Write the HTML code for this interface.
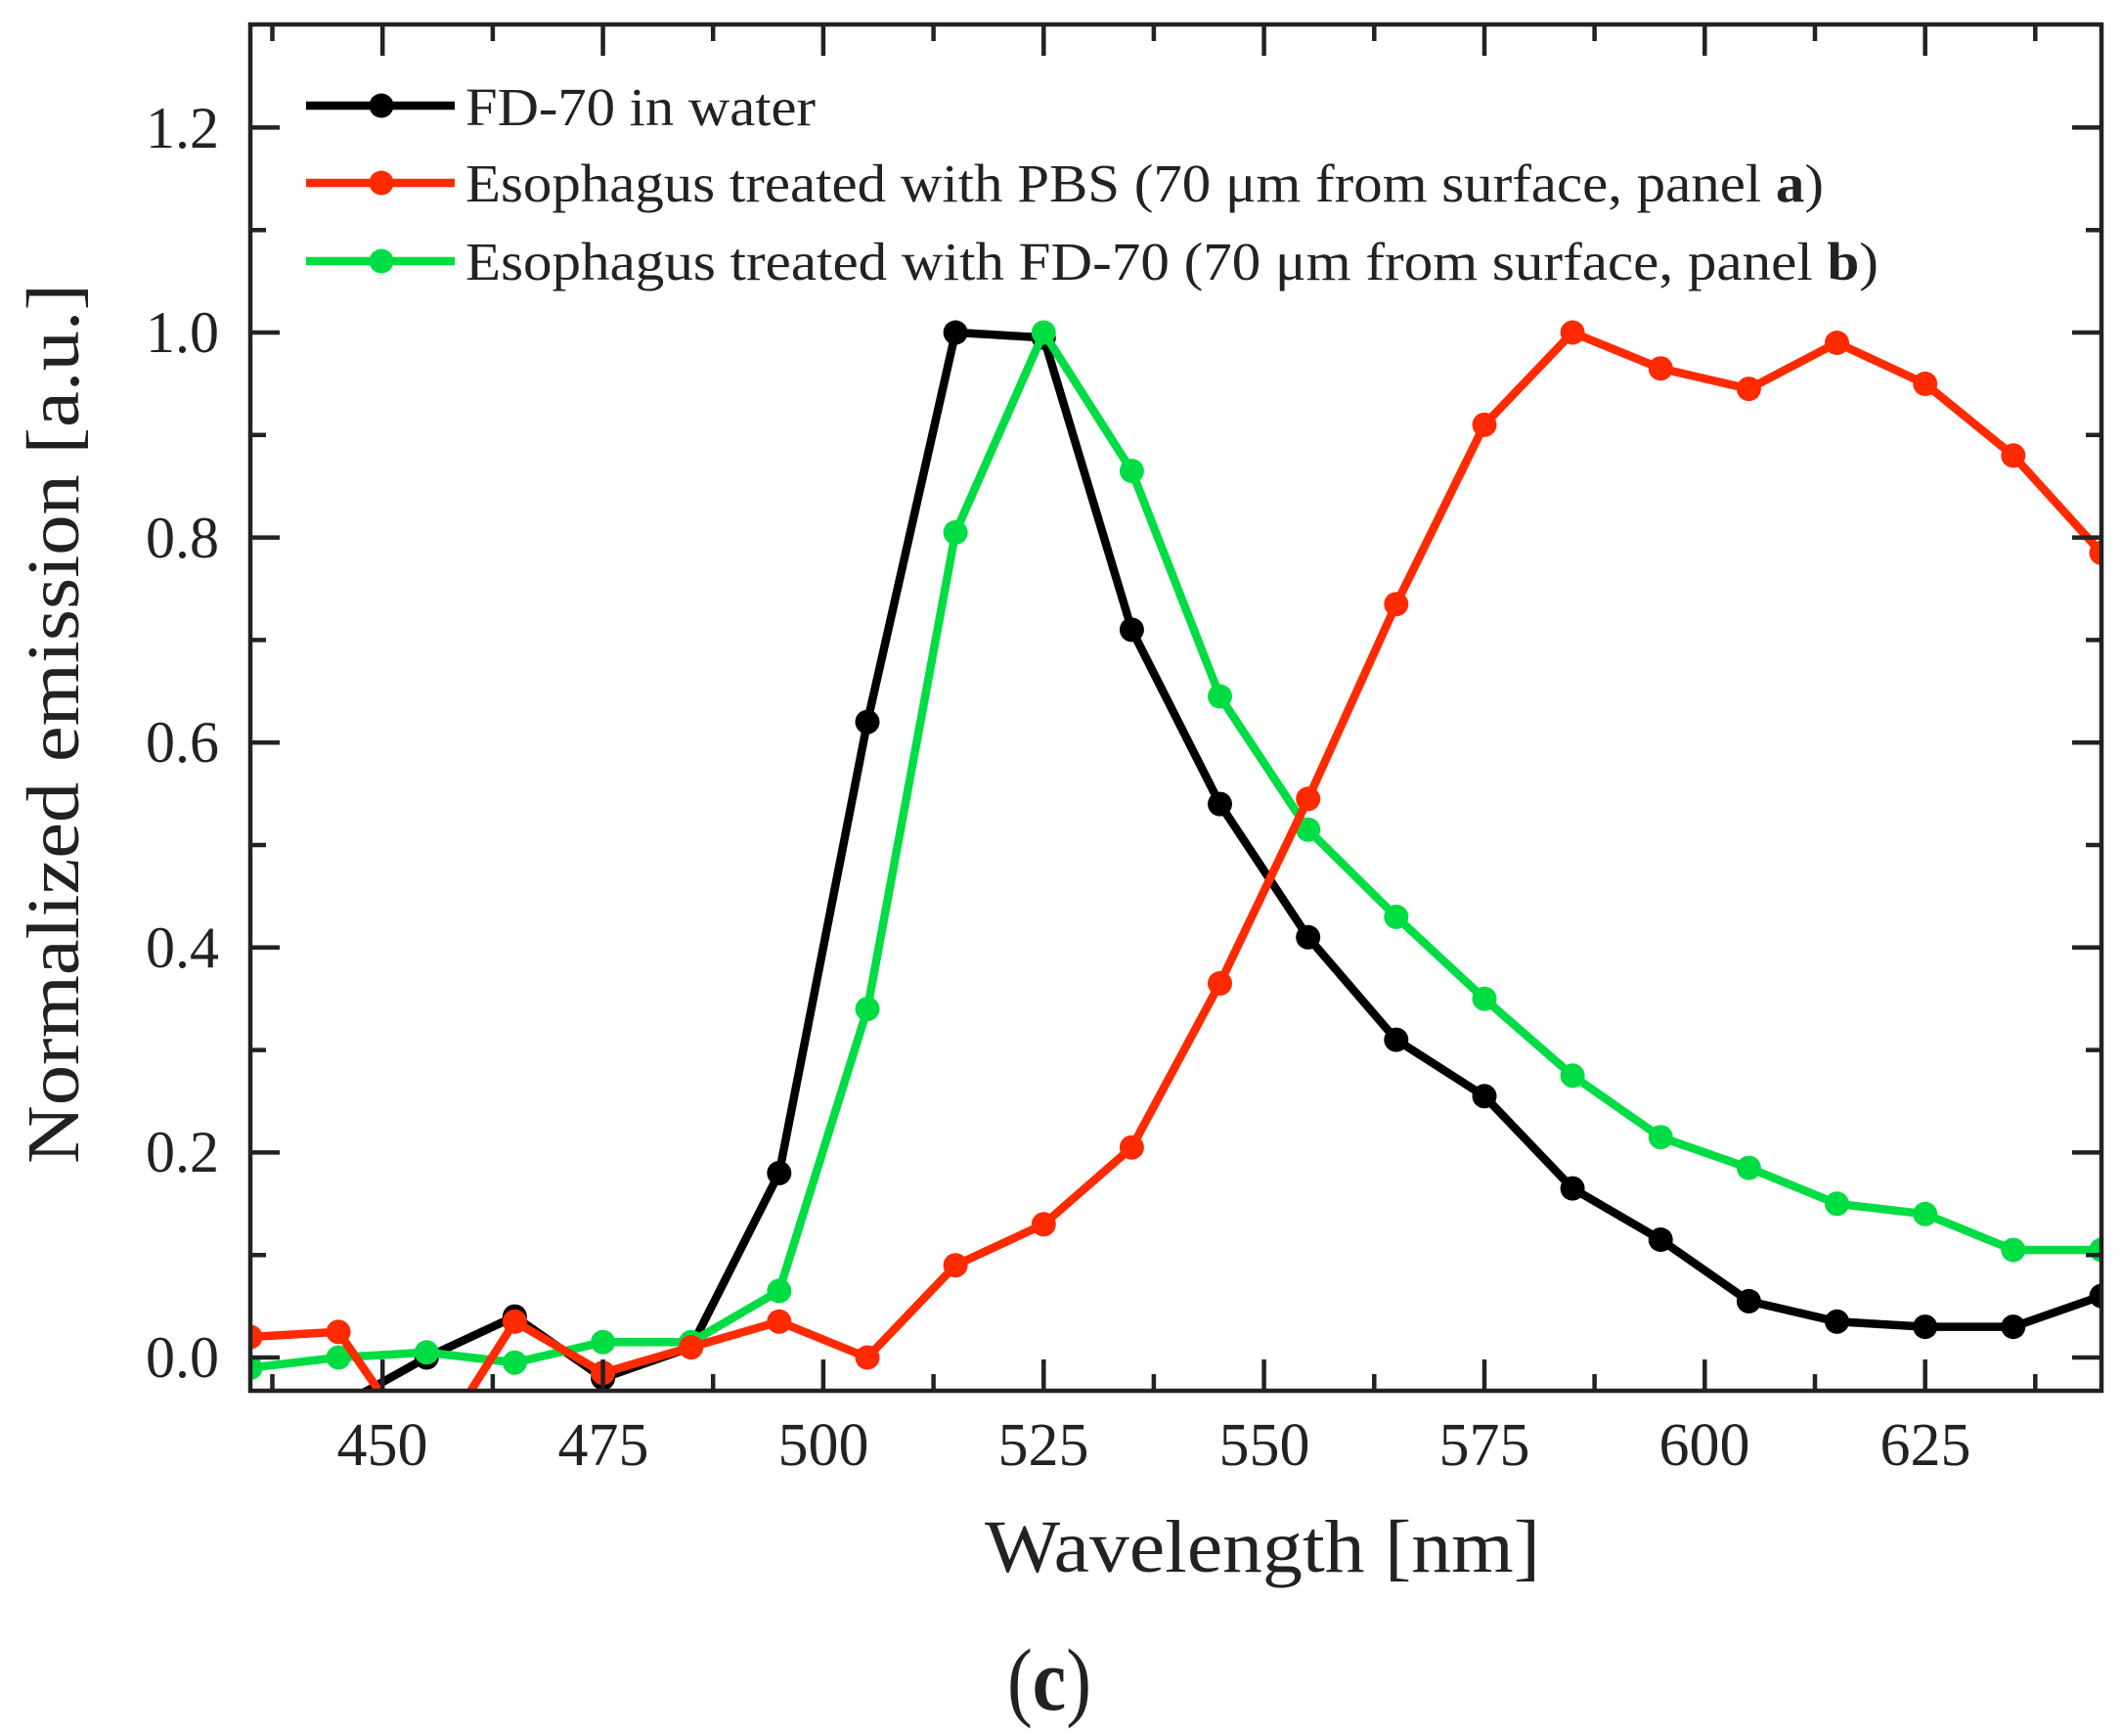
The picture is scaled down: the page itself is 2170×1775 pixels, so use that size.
<!DOCTYPE html>
<html><head><meta charset="utf-8"><style>
html,body{margin:0;padding:0;background:#fff;}
svg{display:block;}
text{font-family:"Liberation Serif",serif;fill:#222;}
</style></head><body>
<svg width="2170" height="1775" viewBox="0 0 2170 1775" xmlns="http://www.w3.org/2000/svg">
<defs><clipPath id="c"><rect x="256" y="25" width="1893" height="1397"/></clipPath></defs>
<g clip-path="url(#c)" stroke-linejoin="round" fill="none" stroke-width="8.5">
<polyline stroke="#000" points="256,1471.8 346.1,1438.3 436.3,1388 526.4,1346.1 616.6,1409 706.7,1377.5 796.8,1199.4 887,738.2 977.1,340 1067.3,345.2 1157.4,643.9 1247.5,822.1 1337.7,958.3 1427.8,1063.1 1518,1120.8 1608.1,1215.1 1698.2,1267.5 1788.4,1330.4 1878.5,1351.3 1968.7,1356.6 2058.8,1356.6 2149,1325.1"/>
<g fill="#000" stroke="none">
<circle cx="436.3" cy="1388" r="12.5"/><circle cx="526.4" cy="1346.1" r="12.5"/><circle cx="616.6" cy="1409" r="12.5"/><circle cx="706.7" cy="1377.5" r="12.5"/><circle cx="796.8" cy="1199.4" r="12.5"/><circle cx="887" cy="738.2" r="12.5"/><circle cx="977.1" cy="340" r="12.5"/><circle cx="1067.3" cy="345.2" r="12.5"/><circle cx="1157.4" cy="643.9" r="12.5"/><circle cx="1247.5" cy="822.1" r="12.5"/><circle cx="1337.7" cy="958.3" r="12.5"/><circle cx="1427.8" cy="1063.1" r="12.5"/><circle cx="1518" cy="1120.8" r="12.5"/><circle cx="1608.1" cy="1215.1" r="12.5"/><circle cx="1698.2" cy="1267.5" r="12.5"/><circle cx="1788.4" cy="1330.4" r="12.5"/><circle cx="1878.5" cy="1351.3" r="12.5"/><circle cx="1968.7" cy="1356.6" r="12.5"/><circle cx="2058.8" cy="1356.6" r="12.5"/><circle cx="2149" cy="1325.1" r="12.5"/>
</g>
<polyline stroke="#00dd44" points="256,1398.5 346.1,1388 436.3,1382.8 526.4,1393.2 616.6,1372.3 706.7,1372.3 796.8,1319.9 887,1031.7 977.1,544.4 1067.3,340 1157.4,481.5 1247.5,712 1337.7,848.3 1427.8,937.4 1518,1021.2 1608.1,1099.8 1698.2,1162.7 1788.4,1194.1 1878.5,1230.8 1968.7,1241.3 2058.8,1278 2149,1278"/>
<g fill="#00dd44" stroke="none">
<circle cx="256" cy="1398.5" r="12.5"/><circle cx="346.1" cy="1388" r="12.5"/><circle cx="436.3" cy="1382.8" r="12.5"/><circle cx="526.4" cy="1393.2" r="12.5"/><circle cx="616.6" cy="1372.3" r="12.5"/><circle cx="706.7" cy="1372.3" r="12.5"/><circle cx="796.8" cy="1319.9" r="12.5"/><circle cx="887" cy="1031.7" r="12.5"/><circle cx="977.1" cy="544.4" r="12.5"/><circle cx="1067.3" cy="340" r="12.5"/><circle cx="1157.4" cy="481.5" r="12.5"/><circle cx="1247.5" cy="712" r="12.5"/><circle cx="1337.7" cy="848.3" r="12.5"/><circle cx="1427.8" cy="937.4" r="12.5"/><circle cx="1518" cy="1021.2" r="12.5"/><circle cx="1608.1" cy="1099.8" r="12.5"/><circle cx="1698.2" cy="1162.7" r="12.5"/><circle cx="1788.4" cy="1194.1" r="12.5"/><circle cx="1878.5" cy="1230.8" r="12.5"/><circle cx="1968.7" cy="1241.3" r="12.5"/><circle cx="2058.8" cy="1278" r="12.5"/><circle cx="2149" cy="1278" r="12.5"/>
</g>
<polyline stroke="#ff2a00" points="256,1367 346.1,1361.8 436.3,1492.8 526.4,1351.3 616.6,1403.7 706.7,1377.5 796.8,1351.3 887,1388 977.1,1293.7 1067.3,1251.8 1157.4,1173.2 1247.5,1005.5 1337.7,816.8 1427.8,617.7 1518,434.3 1608.1,340 1698.2,376.7 1788.4,397.6 1878.5,350.5 1968.7,392.4 2058.8,465.8 2149,565.3"/>
<g fill="#ff2a00" stroke="none">
<circle cx="256" cy="1367" r="12.5"/><circle cx="346.1" cy="1361.8" r="12.5"/><circle cx="526.4" cy="1351.3" r="12.5"/><circle cx="616.6" cy="1403.7" r="12.5"/><circle cx="706.7" cy="1377.5" r="12.5"/><circle cx="796.8" cy="1351.3" r="12.5"/><circle cx="887" cy="1388" r="12.5"/><circle cx="977.1" cy="1293.7" r="12.5"/><circle cx="1067.3" cy="1251.8" r="12.5"/><circle cx="1157.4" cy="1173.2" r="12.5"/><circle cx="1247.5" cy="1005.5" r="12.5"/><circle cx="1337.7" cy="816.8" r="12.5"/><circle cx="1427.8" cy="617.7" r="12.5"/><circle cx="1518" cy="434.3" r="12.5"/><circle cx="1608.1" cy="340" r="12.5"/><circle cx="1698.2" cy="376.7" r="12.5"/><circle cx="1788.4" cy="397.6" r="12.5"/><circle cx="1878.5" cy="350.5" r="12.5"/><circle cx="1968.7" cy="392.4" r="12.5"/><circle cx="2058.8" cy="465.8" r="12.5"/><circle cx="2149" cy="565.3" r="12.5"/>
</g>
</g>
<rect x="256" y="25" width="1893" height="1397" fill="none" stroke="#222" stroke-width="4.5"/>
<g stroke="#222" stroke-width="4.5">
<path d="M391.2,1422v-32M616.6,1422v-32M841.9,1422v-32M1067.3,1422v-32M1292.6,1422v-32M1518,1422v-32M1743.3,1422v-32M1968.7,1422v-32"/>
<path d="M278.5,1422v-17M503.9,1422v-17M729.2,1422v-17M954.6,1422v-17M1179.9,1422v-17M1405.3,1422v-17M1630.6,1422v-17M1856,1422v-17M2081.3,1422v-17"/>
<path d="M391.2,25v32M616.6,25v32M841.9,25v32M1067.3,25v32M1292.6,25v32M1518,25v32M1743.3,25v32M1968.7,25v32"/>
<path d="M278.5,25v17M503.9,25v17M729.2,25v17M954.6,25v17M1179.9,25v17M1405.3,25v17M1630.6,25v17M1856,25v17M2081.3,25v17"/>
<path d="M256,1388h30M256,1178.4h30M256,968.8h30M256,759.2h30M256,549.6h30M256,340h30M256,130.4h30"/>
<path d="M256,1283.2h16M256,1073.6h16M256,864h16M256,654.4h16M256,444.8h16M256,235.2h16"/>
<path d="M2149,1388h-30M2149,1178.4h-30M2149,968.8h-30M2149,759.2h-30M2149,549.6h-30M2149,340h-30M2149,130.4h-30"/>
<path d="M2149,1283.2h-16M2149,1073.6h-16M2149,864h-16M2149,654.4h-16M2149,444.8h-16M2149,235.2h-16"/>
</g>
<g font-size="60" text-anchor="end">
<text x="224" y="1408">0.0</text><text x="224" y="1198">0.2</text><text x="224" y="989">0.4</text><text x="224" y="779">0.6</text><text x="224" y="570">0.8</text><text x="224" y="360">1.0</text><text x="224" y="151">1.2</text>
</g>
<g font-size="62" text-anchor="middle">
<text x="391" y="1498">450</text><text x="617" y="1498">475</text><text x="842" y="1498">500</text><text x="1067" y="1498">525</text><text x="1293" y="1498">550</text><text x="1518" y="1498">575</text><text x="1743" y="1498">600</text><text x="1969" y="1498">625</text>
</g>
<text x="1007" y="1607" font-size="76" textLength="568" lengthAdjust="spacingAndGlyphs">Wavelength [nm]</text>
<text transform="translate(80,740) rotate(-90)" font-size="76" text-anchor="middle" textLength="900" lengthAdjust="spacingAndGlyphs">Normalized emission [a.u.]</text>
<text x="1030" y="1748" font-size="90" textLength="86" lengthAdjust="spacingAndGlyphs">(<tspan font-weight="bold">c</tspan>)</text>
<g stroke-width="8.5">
<line x1="313" y1="108" x2="465" y2="108" stroke="#000"/>
<line x1="313" y1="187" x2="465" y2="187" stroke="#ff2a00"/>
<line x1="313" y1="267" x2="465" y2="267" stroke="#00dd44"/>
</g>
<circle cx="390" cy="108" r="12.5" fill="#000"/>
<circle cx="390" cy="187" r="12.5" fill="#ff2a00"/>
<circle cx="390" cy="267" r="12.5" fill="#00dd44"/>
<g font-size="55">
<text x="476" y="128" textLength="358" lengthAdjust="spacingAndGlyphs">FD-70 in water</text>
<text x="476" y="206" textLength="1389" lengthAdjust="spacingAndGlyphs">Esophagus treated with PBS (70 μm from surface, panel <tspan font-weight="bold">a</tspan>)</text>
<text x="476" y="286" textLength="1445" lengthAdjust="spacingAndGlyphs">Esophagus treated with FD-70 (70 μm from surface, panel <tspan font-weight="bold">b</tspan>)</text>
</g>
</svg>
</body></html>
